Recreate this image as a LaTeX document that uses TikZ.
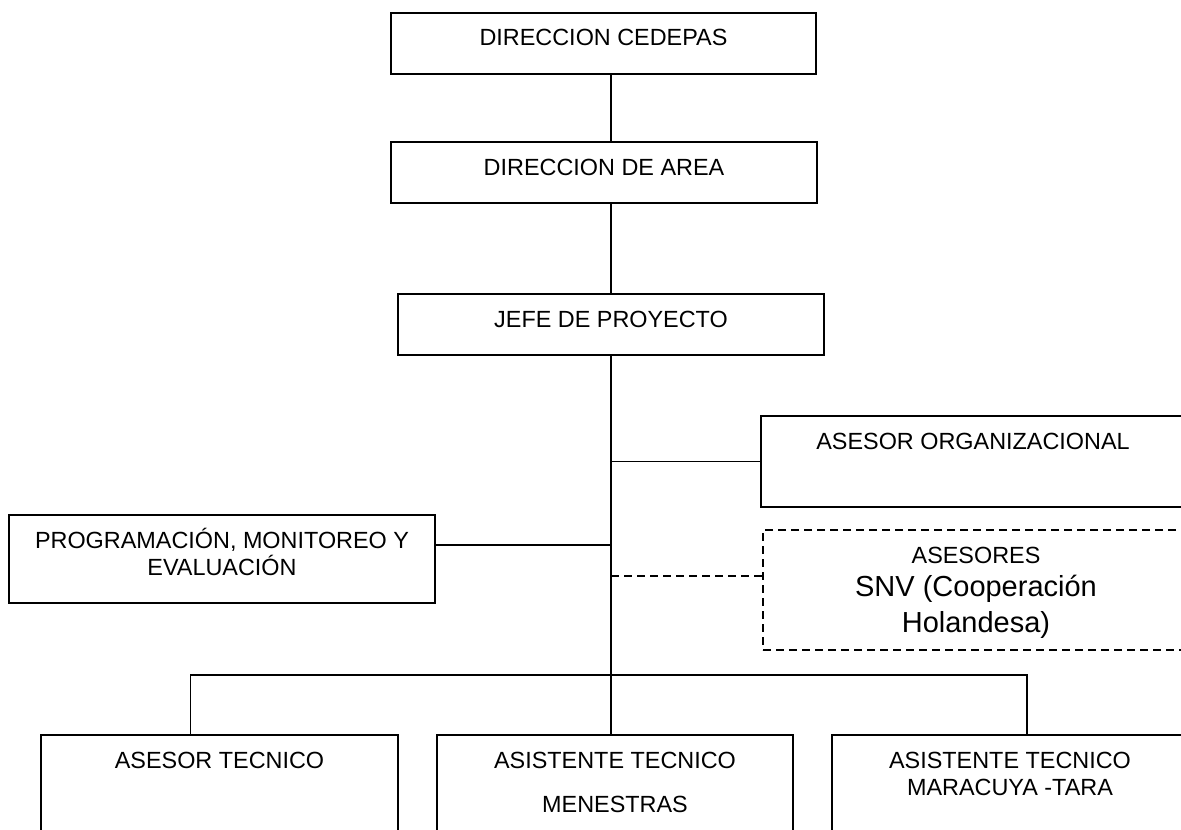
\documentclass[tikz,border=0pt]{standalone}
\usepackage{fontspec}
\setmainfont{Liberation Sans}
\begin{document}
\begin{tikzpicture}[
		x=0.5pt, y=-0.5pt,
		box/.style={draw, line width=0.9pt, inner sep=0pt, outer sep=0pt, align=center, text height=16.5pt, font=\fontsize{11.7}{13.5}\selectfont},
		link/.style={line width=0.9pt},
		advice/.style={dash pattern=on 4pt off 2.5pt},
	]
	\useasboundingbox (0,0) rectangle (1181,829);
	\clip (0,0) rectangle (1181,829);
	
	\node[box, minimum width=212.5pt, text depth=14pt] (cedepas) at (603.5,43.5) {DIRECCION CEDEPAS};
	\node[box, minimum width=213pt, text depth=14pt] (area) at (604,172.5) {DIRECCION DE AREA};
	\node[box, minimum width=213pt, text depth=14pt] (jefe) at (611,324.5) {JEFE DE PROYECTO};
	\node[box, minimum width=212pt, text depth=29pt] (org) at (973,461.5) {ASESOR ORGANIZACIONAL};
	\node[box, advice, minimum width=213pt, text height=51pt, text depth=9pt, font=\fontsize{14.5}{18}\selectfont] (snv) at (976,590) {{\fontsize{11.7}{14}\selectfont ASESORES}\\[-1.5pt]SNV (Cooperación\\Holandesa)};
	\node[box, minimum width=213pt, text height=30pt, text depth=14pt] (pme) at (222,559) {PROGRAMACIÓN, MONITOREO Y\\EVALUACIÓN};
	\node[box, minimum width=178.5pt, text depth=53.5pt] (tec) at (219.5,805) {ASESOR TECNICO};
	\node[box, minimum width=178pt, text height=38.5pt, text depth=31.5pt] (men) at (615,805) {ASISTENTE TECNICO\\[8.5pt]MENESTRAS};
	\node[box, minimum width=178pt, text height=30pt, text depth=40pt] (mar) at (1010,805) {ASISTENTE TECNICO\\MARACUYA -TARA};
	
	\coordinate (jPme) at (611,545);
	\coordinate (jSnv) at (611,576);
	\coordinate (busL) at (190.5,675);
	\coordinate (busR) at (1027,675);
	
	\draw[link] (cedepas.south -| jefe.north) -- (area.north -| jefe.north);
	\draw[link] (area.south -| jefe.north) -- (jefe.north);
	\draw[link] (jefe.south) -- (jefe.south |- men.north);
	\draw[link] (org.west) -- (org.west -| jefe.south);
	\draw[link] (jPme) -- (jPme -| pme.east);
	\draw[link, advice] (jSnv) -- (jSnv -| snv.west);
	\draw[link] (busL |- tec.north) -- (busL) -- (busR) -- (busR |- mar.north);
\end{tikzpicture}
\end{document}
